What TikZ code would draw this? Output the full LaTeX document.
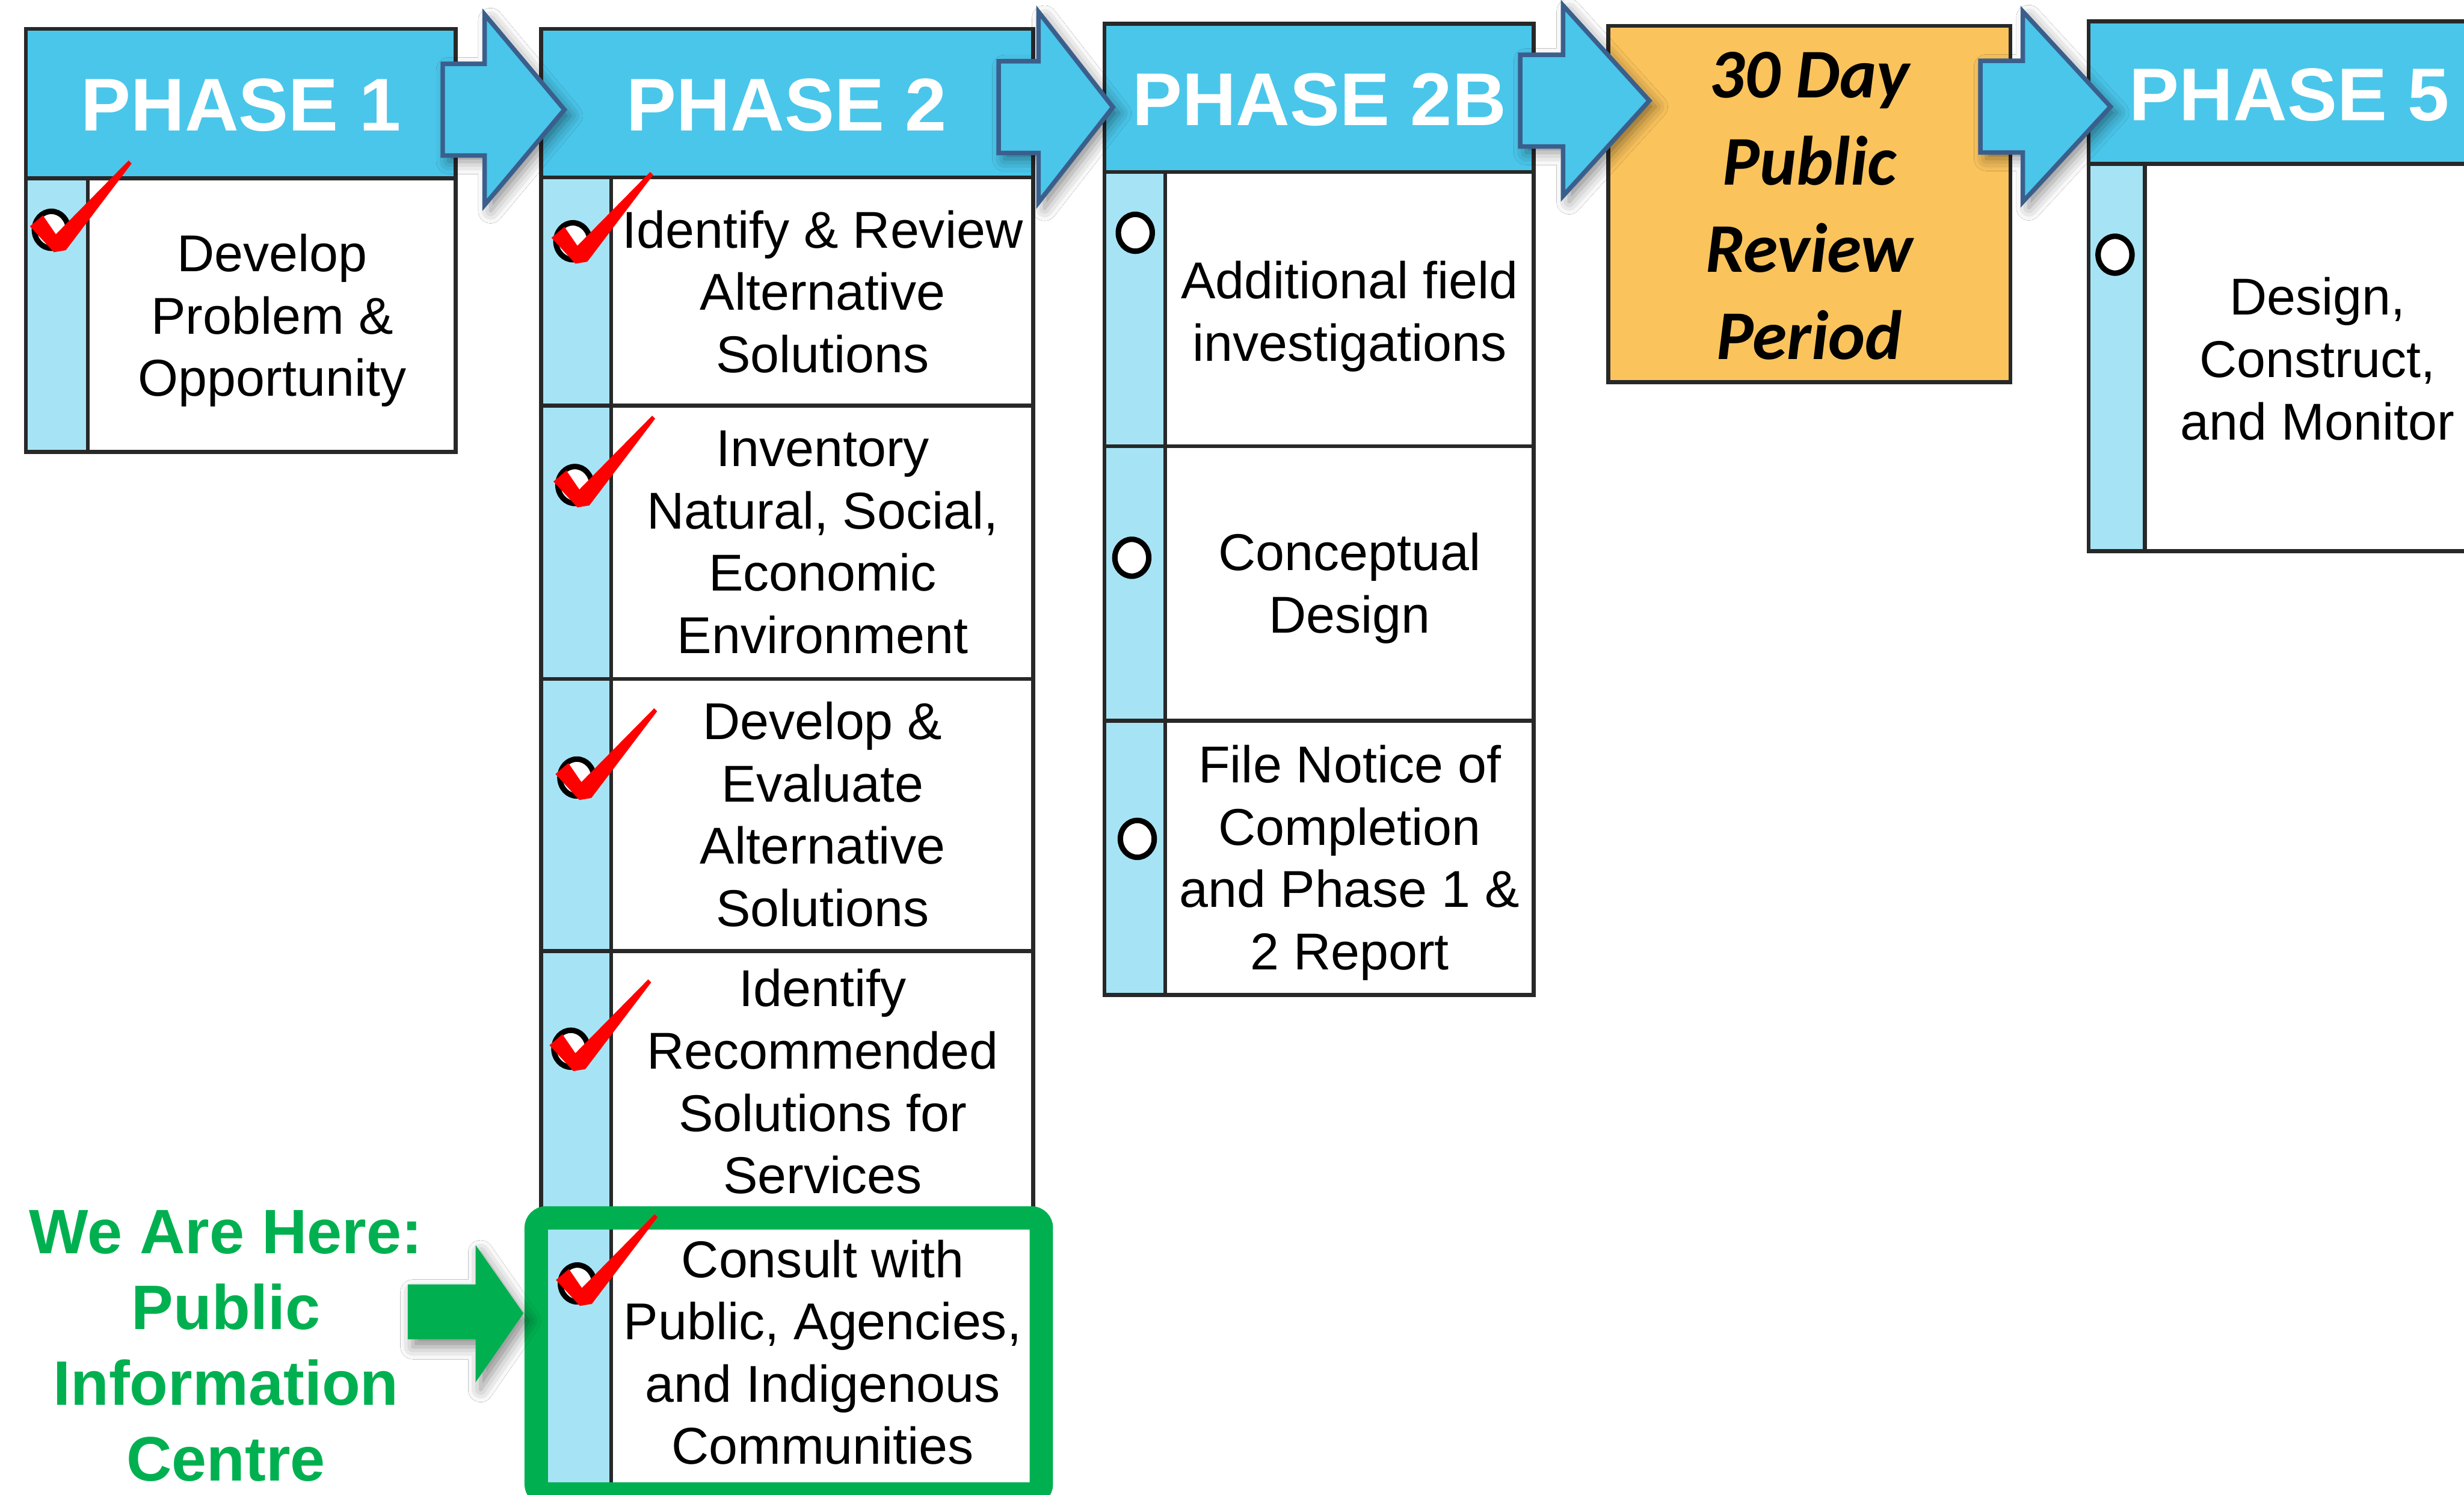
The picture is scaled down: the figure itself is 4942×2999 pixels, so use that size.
\documentclass[tikz,border=0pt]{standalone}
\usepackage{fontspec}
\setmainfont{Liberation Sans}
\newfontfamily\calfont{Carlito}
\usetikzlibrary{shadows.blur}

\definecolor{hdrblue}{RGB}{74,198,234}
\definecolor{stripblue}{RGB}{166,228,245}
\definecolor{reviewgold}{RGB}{250,195,92}
\definecolor{heregreen}{RGB}{0,176,80}
\definecolor{arrowrim}{RGB}{58,95,140}
\definecolor{rulegray}{RGB}{40,40,40}

\tikzset{
  boxline/.style={draw=rulegray, line width=0.8pt},
  hdrtext/.style={text=white, inner sep=0pt,
    font=\fontsize{15}{18}\selectfont\bfseries},
  bodytext/.style={align=center, inner sep=0pt,
    font=\fontsize{10.4}{12.5}\selectfont},
  reviewtext/.style={align=center, inner sep=0pt,
    font=\fontsize{14}{17.5}\selectfont\calfont\bfseries\itshape},
  heretext/.style={align=center, inner sep=0pt, text=heregreen,
    font=\fontsize{12.6}{15.2}\selectfont\bfseries},
  arrowbody/.style={fill=hdrblue, draw=arrowrim, line width=0.9pt,
    blur shadow={shadow xshift=1.2pt, shadow yshift=-1.2pt,
      shadow blur radius=2.5pt, shadow opacity=45}},
  ringmark/.style={draw=black, fill=white, line width=1.1pt},
  tickmark/.pic={
    \draw[ringmark] (0,0) ellipse [x radius=3.4pt, y radius=3.7pt];
    \fill[red] (5,45) -- (-43,-7) -- (-17,-29) -- (9,9)
      -- (155,-139) -- (161,-133) -- (29,41) -- cycle;
  },
  openmark/.pic={
    \draw[ringmark] (0,0) ellipse [x radius=3.4pt, y radius=3.7pt];
  }
}

% block arrow: body left, head base, tip x, centre y
\newcommand\flowarrow[4]{%
  \draw[arrowbody] (#1,#4-92) -- (#2,#4-92) -- (#2,#4-191) -- (#3,#4)
    -- (#2,#4+191) -- (#2,#4+92) -- (#1,#4+92) -- cycle;}

\begin{document}
\begin{tikzpicture}[x=0.1pt, y=-0.1pt]
\useasboundingbox (0,0) rectangle (4942,2999);
\clip (0,0) rectangle (4942,2999);
\fill[white] (0,0) rectangle (4942,2999);

% ---------- Phase 1 ----------
\fill[stripblue] (52,358) rectangle (176,907);
\fill[white] (176,358) rectangle (914,907);
\fill[hdrblue] (52,58) rectangle (914,358);
\draw[boxline] (52,58) rectangle (914,907);
\draw[boxline] (52,358) -- (914,358);
\draw[boxline] (176,358) -- (176,907);
\node[hdrtext] (p1head) at (483,211) {PHASE 1};
\node[bodytext] (p1a) at (546,643) {Develop\\Problem \&\\Opportunity};
\pic at (103,461) {tickmark};

% ---------- Phase 2 ----------
\fill[stripblue] (1085,356) rectangle (1226,3100);
\fill[white] (1226,356) rectangle (2072,3100);
\fill[hdrblue] (1085,58) rectangle (2072,356);
\draw[boxline] (1085,58) rectangle (2072,2430);
\foreach \yy in {356,814,1362,1908} \draw[boxline] (1085,\yy) -- (2072,\yy);
\draw[boxline] (1226,356) -- (1226,3100);
\node[hdrtext] (p2head) at (1578,211) {PHASE 2};
\node[bodytext] (p2a) at (1650,585) {Identify \& Review\\Alternative\\Solutions};
\node[bodytext] (p2b) at (1650,1088) {Inventory\\Natural, Social,\\Economic\\Environment};
\node[bodytext] (p2c) at (1650,1634) {Develop \&\\Evaluate\\Alternative\\Solutions};
\node[bodytext] (p2d) at (1650,2170) {Identify\\Recommended\\Solutions for\\Services};
\node[bodytext] (p2e) at (1650,2713) {Consult with\\Public, Agencies,\\and Indigenous\\Communities};
\pic at (1149,484) {tickmark};
\pic at (1153,973) {tickmark};
\pic at (1157,1560) {tickmark};
\pic at (1145,2104) {tickmark};

% ---------- Phase 2B ----------
\fill[stripblue] (2215,345) rectangle (2337,1996);
\fill[white] (2337,345) rectangle (3076,1996);
\fill[hdrblue] (2215,48) rectangle (3076,345);
\draw[boxline] (2215,48) rectangle (3076,1996);
\foreach \yy in {345,895,1446} \draw[boxline] (2215,\yy) -- (3076,\yy);
\draw[boxline] (2337,345) -- (2337,1996);
\node[hdrtext] (p2bhead) at (2646,200) {PHASE 2B};
\node[bodytext] (p2ba) at (2707,635) {Additional field\\investigations};
\node[bodytext] (p2bb) at (2707,1180) {Conceptual\\Design};
\node[bodytext] (p2bc) at (2707,1731) {File Notice of\\Completion\\and Phase 1 \&\\2 Report};
\pic at (2277,467) {openmark};
\pic at (2270,1119) {openmark};
\pic at (2281,1683) {openmark};

% ---------- 30 day review ----------
\draw[boxline, fill=reviewgold] (3226,52) rectangle (4032,767);
\node[reviewtext] (review) at (3629,413) {30 Day\\Public\\Review\\Period};

% ---------- Phase 5 ----------
\fill[stripblue] (4189,329) rectangle (4302,1106);
\fill[white] (4302,329) rectangle (5000,1106);
\fill[hdrblue] (4189,43) rectangle (5000,329);
\draw[boxline] (4189,43) rectangle (5000,1106);
\draw[boxline] (4189,329) -- (5000,329);
\draw[boxline] (4302,329) -- (4302,1106);
\node[hdrtext] (p5head) at (4592,190) {PHASE 5};
\node[bodytext] (p5a) at (4648,720) {Design,\\Construct,\\and Monitor};
\pic at (4242,511) {openmark};

% ---------- arrows between stages ----------
\flowarrow{888}{972}{1132}{220}
\flowarrow{2003}{2083}{2232}{215}
\flowarrow{3049}{3135}{3308}{202}
\flowarrow{3972}{4057}{4233}{214}

% ---------- current step ----------
\draw[heregreen, line width=4.7pt, rounded corners=2pt]
  (1075.5,2443.5) rectangle (2088.5,2997.5);
\pic at (1158,2575) {tickmark};
\fill[heregreen, blur shadow={shadow xshift=1pt, shadow yshift=-1.5pt,
      shadow blur radius=2.5pt, shadow opacity=45}]
  (818,2577) -- (954,2577) -- (954,2498) -- (1050,2635)
  -- (954,2773) -- (954,2687) -- (818,2687) -- cycle;
\node[heretext] (here) at (453,2700) {We Are Here:\\Public\\Information\\Centre};
\end{tikzpicture}
\end{document}
